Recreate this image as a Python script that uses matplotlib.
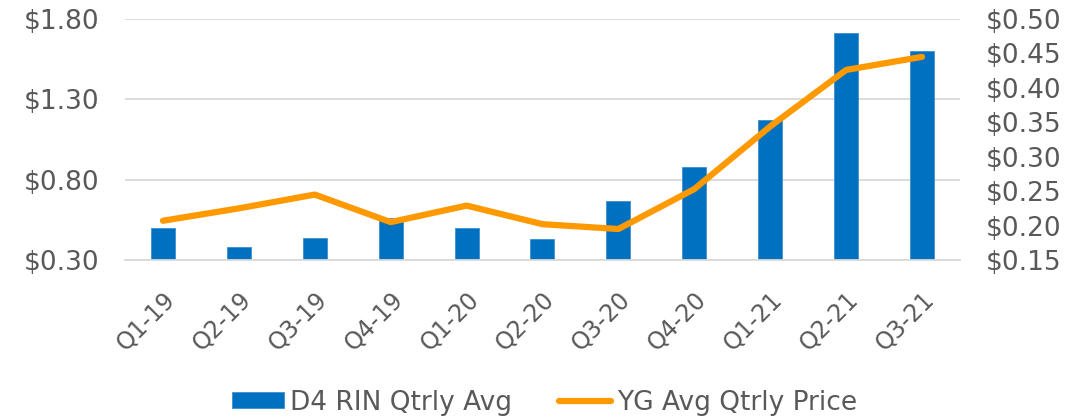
import matplotlib
matplotlib.use("Agg")
import matplotlib.pyplot as plt
import numpy as np

categories = ["Q1-19", "Q2-19", "Q3-19", "Q4-19", "Q1-20", "Q2-20",
              "Q3-20", "Q4-20", "Q1-21", "Q2-21", "Q3-21"]
d4_rin = [0.50, 0.38, 0.44, 0.56, 0.50, 0.43, 0.67, 0.88, 1.17, 1.71, 1.60]
yg_price = [0.207, 0.225, 0.245, 0.205, 0.229, 0.202, 0.195, 0.253, 0.344, 0.426, 0.445]
left_ticks = [0.30, 0.80, 1.30, 1.80]
right_ticks = [0.15, 0.20, 0.25, 0.30, 0.35, 0.40, 0.45, 0.50]

plt.rcParams['font.family'] = ['DejaVu Sans']
txt = '#595959'
fig = plt.figure(figsize=(10.84, 4.18), dpi=100)
ax = fig.add_axes([0.1153, 0.378, 0.7703, 0.5766])
x = np.arange(len(categories))
bars = ax.bar(x, d4_rin, width=0.316, color='#0070C0', edgecolor='#3F8FD0',
              linewidth=0.6, zorder=2, label='D4 RIN Qtrly Avg')
ax.set_ylim(0.30, 1.80)
ax.set_xlim(-0.5, len(categories) - 0.5)
ax.set_yticks(left_ticks)
ax.set_yticklabels([f"${v:.2f}" for v in left_ticks], fontsize=19, color=txt)
ax.yaxis.grid(True, color='#D9D9D9', linewidth=1.3, zorder=0)
ax.set_axisbelow(True)
for s in ['top', 'right', 'left']:
    ax.spines[s].set_visible(False)
ax.spines['bottom'].set_color('#D9D9D9')
ax.spines['bottom'].set_linewidth(1.3)
ax.tick_params(axis='y', length=0, pad=18.5)
ax.tick_params(axis='x', length=0, pad=20)
ax.set_xticks(x)
ax.set_xticklabels(categories, rotation=45, ha='right', rotation_mode='anchor',
                   fontsize=17, color=txt)

ax2 = ax.twinx()
line, = ax2.plot(x, yg_price, color='#FF9900', linewidth=4.5,
                 solid_capstyle='round', solid_joinstyle='round', zorder=3,
                 label='YG Avg Qtrly Price')
ax2.set_ylim(0.15, 0.50)
ax2.set_yticks(right_ticks)
ax2.set_yticklabels([f"${v:.2f}" for v in right_ticks], fontsize=19, color=txt)
ax2.tick_params(axis='y', length=0, pad=18.5)
for s in ['top', 'right', 'left', 'bottom']:
    ax2.spines[s].set_visible(False)

fig.legend([bars, line], ['D4 RIN Qtrly Avg', 'YG Avg Qtrly Price'],
           loc='center', bbox_to_anchor=(0.5023, 0.037), ncol=2, frameon=False,
           fontsize=19, labelcolor=txt, handlelength=1.97, handleheight=0.57,
           columnspacing=1.78, handletextpad=0.23, borderaxespad=0, borderpad=0)

fig.savefig('out.png', dpi=100)
